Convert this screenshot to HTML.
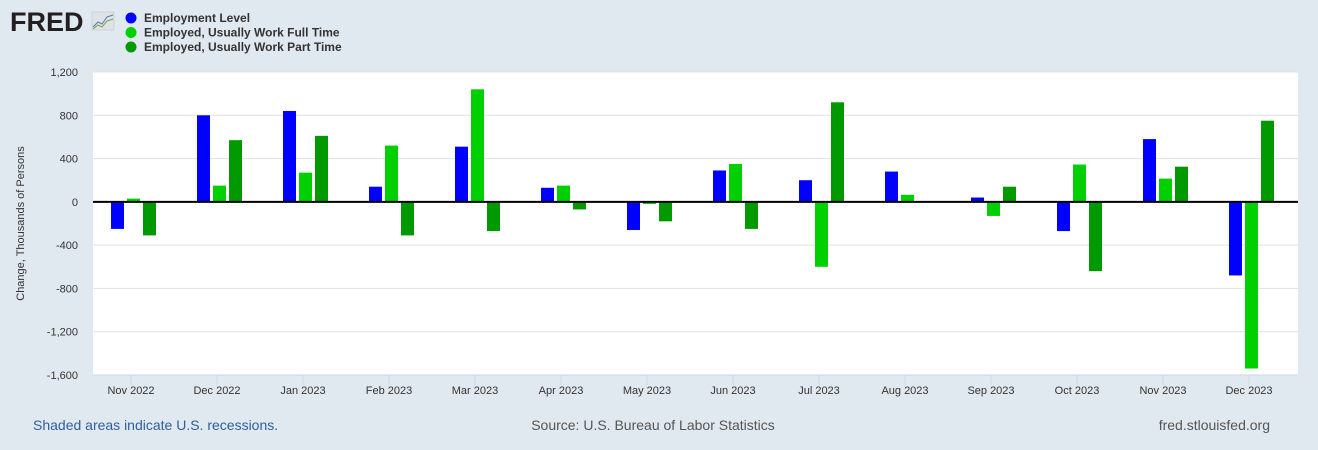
<!DOCTYPE html>
<html><head><meta charset="utf-8"><style>
body{margin:0;background:#e1e9f0;font-family:"Liberation Sans",sans-serif;}
#wrap{position:relative;width:1318px;height:450px;overflow:hidden;background:#e1e9f0;}
</style></head><body>
<div id="wrap">
<svg id="chart" width="1318" height="450"></svg>
</div>
<script>
const categories=["Nov 2022","Dec 2022","Jan 2023","Feb 2023","Mar 2023","Apr 2023","May 2023","Jun 2023","Jul 2023","Aug 2023","Sep 2023","Oct 2023","Nov 2023","Dec 2023"];
const employmentLevel=[-250,800,840,140,510,130,-260,290,200,280,40,-270,580,-680];
const fullTime=[30,150,270,520,1040,150,-20,350,-600,65,-130,345,215,-1540];
const partTime=[-310,570,610,-310,-270,-70,-180,-250,920,0,140,-640,325,750];
const yTicks=[-1600,-1200,-800,-400,0,400,800,1200];
const yTickLabels=["-1,600","-1,200","-800","-400","0","400","800","1,200"];
const seriesNames=["Employment Level","Employed, Usually Work Full Time","Employed, Usually Work Part Time"];

const NS="http://www.w3.org/2000/svg";
const svg=document.getElementById('chart');
function mk(t,a,txt){const e=document.createElementNS(NS,t);for(const k in a)e.setAttribute(k,a[k]);if(txt!==undefined)e.textContent=txt;svg.appendChild(e);return e;}
const L=93,R=1298,T=72,B=375,yMin=-1600,yMax=1200;
const y=v=>T+(yMax-v)/(yMax-yMin)*(B-T);
const xc=i=>131+i*86;
const colors=["#0000ff","#00d000","#009900"];
const series=[employmentLevel,fullTime,partTime];

// logo
let e=mk('text',{x:10,y:31,'font-size':27,'font-weight':'bold',fill:'#231f20','font-family':'Liberation Sans, sans-serif'},'FRED');

e=mk('rect',{x:92,y:12,width:22,height:18,fill:'#dfe3e6',stroke:'#bbb','stroke-width':0.5});

mk('polyline',{points:'93,27 98,22 102,24 107,17 113,15',fill:'none',stroke:'#4a7ab0','stroke-width':1});
mk('polyline',{points:'93,29 98,25 102,27 107,21 113,19',fill:'none',stroke:'#7aa040','stroke-width':1});

// legend
seriesNames.forEach((n,i)=>{
 const c=mk('circle',{cx:131,cy:18+i*14.5,r:5.5,fill:colors[i]});
 
 const t=mk('text',{x:144,y:22+i*14.5,'font-size':12,'font-weight':'bold',fill:'#333'},n);
 
});

// plot bg
e=mk('rect',{x:L,y:T,width:R-L,height:B-T,fill:'#ffffff'});


yTicks.forEach((v,i)=>{
 if(v!==0&&v!==yMin){const g=mk('line',{x1:L,x2:R,y1:y(v),y2:y(v),stroke:'#e1e1e1','stroke-width':1});
 }
 const t=mk('text',{x:78,y:y(v)+4,'font-size':11,fill:'#333','text-anchor':'end'},yTickLabels[i]);
 
});
e=mk('text',{x:24,y:(T+B)/2,'font-size':11,fill:'#333','text-anchor':'middle',transform:`rotate(-90 24 ${(T+B)/2})`},'Change, Thousands of Persons');


// bars
categories.forEach((c,i)=>{
 series.forEach((s,j)=>{
  const v=s[i];const bx=xc(i)-20+j*16;
  const y0=y(0),y1=y(v);
  const r=mk('rect',{x:bx,y:Math.min(y0,y1),width:13,height:Math.abs(y1-y0),fill:colors[j]});
  
  
 });
 const tk=mk('line',{x1:xc(i),x2:xc(i),y1:B,y2:B+10,stroke:'#ccd6eb'});
 
 const t=mk('text',{x:xc(i),y:B+19,'font-size':11,fill:'#333','text-anchor':'middle'},c);
 
});
e=mk('line',{x1:L,x2:R,y1:y(0),y2:y(0),stroke:'#000','stroke-width':2});

e=mk('line',{x1:L,x2:R,y1:B,y2:B,stroke:'#ccd6eb','stroke-width':1});


e=mk('text',{x:33,y:430,'font-size':14,fill:'#2f5e9c'},'Shaded areas indicate U.S. recessions.');

e=mk('text',{x:653,y:430,'font-size':14,fill:'#555','text-anchor':'middle'},'Source: U.S. Bureau of Labor Statistics');

e=mk('text',{x:1270,y:430,'font-size':14,fill:'#555','text-anchor':'end'},'fred.stlouisfed.org');

</script>
</body></html>
